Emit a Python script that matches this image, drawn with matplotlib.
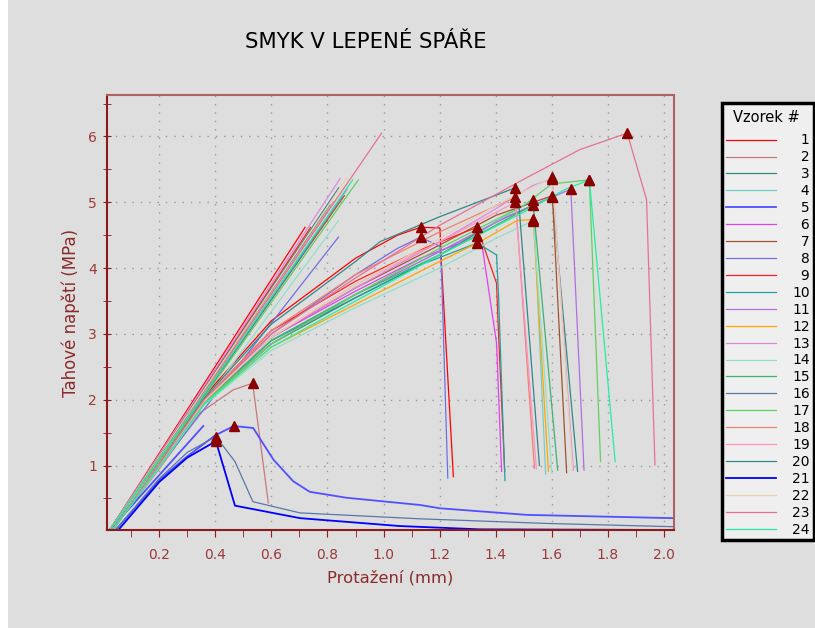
import numpy as np
import matplotlib.pyplot as plt
from matplotlib.ticker import MultipleLocator, FormatStrFormatter

# Smyk v lepene spare - 24 vzorku
# kazdy vzorek: krivka (x, y) az po vrchol, pak pokles; vrchol = trojuhelnik
# a primka z pocatku az do napeti vrcholu

colors = ['#ff0000', '#c87878', '#2e8b80', '#70d0c8', '#5050ff', '#e040f0',
          '#a0522d', '#7070e0', '#ff2020', '#20a0a0', '#b070e0', '#ffa500',
          '#dd88dd', '#90e0c8', '#3cb371', '#5878a8', '#60d060', '#f08070',
          '#ff90c0', '#308888', '#0000ff', '#e8d0b0', '#e87090', '#20f0a0']

curve_x = {
    1: [0.03, 0.2, 0.36, 0.6, 0.9, 1.05, 1.132, 1.201, 1.207, 1.249],
    2: [0.03, 0.2, 0.345, 0.464, 0.533, 0.589],
    3: [0.03, 0.2, 0.36, 0.6, 0.9, 1.2, 1.4, 1.602, 1.692],
    4: [0.03, 0.2, 0.36, 0.6, 0.9, 1.2, 1.4, 1.534, 1.578],
    5: [0.04, 0.2, 0.3, 0.4, 0.466, 0.535, 0.607, 0.678, 0.737, 0.868, 1.13, 1.201, 1.51, 2.033],
    6: [0.03, 0.2, 0.36, 0.6, 0.9, 1.132, 1.334, 1.353, 1.403, 1.421],
    7: [0.03, 0.2, 0.36, 0.6, 0.9, 1.2, 1.4, 1.602, 1.653],
    8: [0.03, 0.2, 0.36, 0.6, 0.9, 1.05, 1.132, 1.201, 1.207, 1.229],
    9: [0.03, 0.2, 0.36, 0.6, 0.9, 1.132, 1.334, 1.403, 1.409, 1.432],
    10: [0.03, 0.2, 0.36, 0.6, 0.9, 1.132, 1.334, 1.403, 1.41, 1.433],
    11: [0.03, 0.2, 0.36, 0.6, 0.9, 1.2, 1.45, 1.668, 1.715],
    12: [0.03, 0.2, 0.36, 0.6, 0.9, 1.2, 1.344, 1.475, 1.534, 1.588],
    13: [0.03, 0.2, 0.36, 0.6, 0.9, 1.2, 1.4, 1.53, 1.602, 1.677],
    14: [0.03, 0.2, 0.36, 0.6, 0.9, 1.2, 1.4, 1.534, 1.60],
    15: [0.03, 0.2, 0.36, 0.6, 0.9, 1.2, 1.4, 1.534, 1.621],
    16: [0.04, 0.2, 0.3, 0.402, 0.470, 0.534, 0.702, 1.13, 1.58, 2.033],
    17: [0.03, 0.2, 0.36, 0.6, 0.9, 1.2, 1.5, 1.6, 1.734, 1.774],
    18: [0.03, 0.2, 0.36, 0.6, 0.9, 1.2, 1.47, 1.538],
    19: [0.03, 0.2, 0.36, 0.6, 0.9, 1.2, 1.47, 1.545],
    20: [0.03, 0.2, 0.36, 0.6, 0.9, 0.987, 1.2, 1.47, 1.483, 1.556],
    21: [0.05, 0.2, 0.3, 0.402, 0.470, 0.702, 1.058, 1.344, 2.033],
    22: [0.03, 0.2, 0.36, 0.6, 0.9, 1.2, 1.4, 1.602, 1.674],
    23: [0.03, 0.2, 0.36, 0.6, 0.9, 1.2, 1.5, 1.7, 1.869, 1.938, 1.968],
    24: [0.03, 0.2, 0.36, 0.6, 0.9, 1.2, 1.5, 1.65, 1.734, 1.826],
}
curve_y = {
    1: [0, 1.08, 2.05, 3.2, 4.15, 4.5, 4.62, 4.61, 4.02, 0.83],
    2: [0, 0.95, 1.80, 2.15, 2.25, 0.43],
    3: [0, 1.0, 1.95, 2.85, 3.55, 4.2, 4.7, 5.08, 0.91],
    4: [0, 1.0, 1.95, 2.9, 3.6, 4.25, 4.7, 5.04, 0.87],
    5: [0, 0.78, 1.14, 1.46, 1.60, 1.57, 1.09, 0.76, 0.60, 0.51, 0.40, 0.35, 0.25, 0.20],
    6: [0, 1.02, 1.98, 2.95, 3.65, 4.15, 4.48, 4.3, 2.86, 0.91],
    7: [0, 1.0, 1.97, 2.95, 3.7, 4.35, 4.8, 5.10, 0.89],
    8: [0, 1.0, 1.98, 3.0, 3.9, 4.3, 4.47, 4.33, 3.9, 0.81],
    9: [0, 1.03, 2.0, 3.05, 3.8, 4.28, 4.62, 3.77, 3.11, 0.91],
    10: [0, 1.0, 1.96, 2.9, 3.55, 4.05, 4.38, 4.20, 3.6, 0.77],
    11: [0, 1.0, 1.95, 2.85, 3.6, 4.25, 4.8, 5.20, 0.93],
    12: [0, 0.98, 1.94, 2.8, 3.45, 4.1, 4.40, 4.72, 4.74, 0.91],
    13: [0, 1.02, 1.98, 2.95, 3.7, 4.4, 4.9, 5.25, 5.36, 0.93],
    14: [0, 0.97, 1.92, 2.75, 3.4, 4.0, 4.45, 4.72, 0.88],
    15: [0, 1.0, 1.95, 2.9, 3.6, 4.2, 4.65, 4.96, 0.93],
    16: [0, 0.8, 1.2, 1.44, 1.06, 0.45, 0.28, 0.19, 0.12, 0.07],
    17: [0, 1.0, 1.95, 2.85, 3.6, 4.3, 4.95, 5.28, 5.34, 1.06],
    18: [0, 1.02, 2.0, 3.05, 3.9, 4.55, 5.08, 0.96],
    19: [0, 1.0, 1.97, 2.95, 3.75, 4.4, 5.0, 0.95],
    20: [0, 1.03, 2.02, 3.15, 4.1, 4.4, 4.78, 5.22, 4.95, 1.0],
    21: [0, 0.75, 1.12, 1.37, 0.39, 0.20, 0.08, 0.03, 0.02],
    22: [0, 1.02, 1.98, 2.95, 3.75, 4.45, 4.95, 5.38, 0.95],
    23: [0, 1.02, 2.0, 3.0, 3.85, 4.65, 5.35, 5.8, 6.05, 5.04, 1.01],
    24: [0, 0.98, 1.93, 2.8, 3.5, 4.2, 4.85, 5.2, 5.34, 1.06],
}
# vrcholy (maximum napeti)
peak_x = [1.132, 0.533, 1.602, 1.534, 0.466, 1.334, 1.602, 1.132, 1.334, 1.334, 1.668, 1.534,
          1.602, 1.534, 1.534, 0.402, 1.734, 1.470, 1.470, 1.470, 0.402, 1.602, 1.869, 1.734]
peak_y = [4.62, 2.25, 5.08, 5.04, 1.60, 4.48, 5.10, 4.47, 4.62, 4.38, 5.20, 4.74,
          5.36, 4.72, 4.96, 1.44, 5.34, 5.08, 5.00, 5.22, 1.37, 5.38, 6.05, 5.34]
# konec primky z pocatku (None = bez primky)
line_end_x = [0.72, None, 0.85, 0.83, 0.357, 0.73, 0.86, 0.839, 0.74, 0.74, 0.87, 0.78,
              0.845, 0.839, 0.81, None, 0.91, 0.82, 0.82, 0.84, None, 0.87, 0.993, 0.89]
thick = [5, 21]

fig = plt.figure(figsize=(8.15, 6.28), dpi=100, facecolor='#dedede')
fig.patches.append(plt.Rectangle((0, 0), 8 / 815, 1, transform=fig.transFigure,
                                 facecolor='white', edgecolor='none'))
ax = fig.add_axes([106.7 / 815, 1 - 530 / 628, 567.6 / 815, 435 / 628])
ax.set_facecolor('#dedede')

handles = []
for i in range(24):
    n = i + 1
    lw = 1.3 if n in thick else 0.9
    h, = ax.plot(curve_x[n], curve_y[n], color=colors[i], lw=lw)
    handles.append(h)
    if line_end_x[i] is not None:
        ax.plot([0.02, line_end_x[i]], [0, peak_y[i]], color=colors[i], lw=lw)
ax.plot(peak_x, peak_y, linestyle='none', marker='^', color='#8b0000', markersize=7.5, zorder=5)

ax.set_xlim(0.0125, 2.037)
ax.set_ylim(0.02, 6.63)
ax.xaxis.set_major_locator(MultipleLocator(0.2))
ax.xaxis.set_minor_locator(MultipleLocator(0.1))
ax.yaxis.set_major_locator(MultipleLocator(1))
ax.yaxis.set_minor_locator(MultipleLocator(0.5))
ax.xaxis.set_major_formatter(FormatStrFormatter('%.1f'))
ax.grid(True, which='major', color='#999999', linestyle=(0, (1, 5)), linewidth=1)

dark = '#8b1a1a'
for s in ['left', 'bottom']:
    ax.spines[s].set_color(dark)
    ax.spines[s].set_linewidth(1.5)
for s in ['top', 'right']:
    ax.spines[s].set_color('#b06060')
    ax.spines[s].set_linewidth(1.5)
ax.tick_params(axis='x', which='both', direction='out', length=5, color=dark,
               labelcolor='#9a3a3a', labelsize=10, pad=8)
ax.tick_params(axis='y', which='both', direction='inout', length=6, color=dark,
               labelcolor='#9a3a3a', labelsize=10, pad=4)

ax.set_xlabel('Protažení (mm)', color='#8b2a2a', fontsize=11.8, labelpad=6)
ax.set_ylabel('Tahové napětí (MPa)', color='#8b2a2a', fontsize=12, labelpad=6)
fig.text(366 / 815, 1 - 42 / 628, 'SMYK V LEPENÉ SPÁŘE', ha='center', va='center', fontsize=15.2)

# ramecek legendy
fig.patches.append(plt.Rectangle((722 / 815, 1 - 540 / 628), 92 / 815, 437 / 628,
                                 transform=fig.transFigure, facecolor='#efefef',
                                 edgecolor='black', linewidth=2.5))
fig.text(766 / 815, 1 - 117 / 628, 'Vzorek #', ha='center', va='center', fontsize=10.5)
labels = ['\u2007' * (2 - len(str(n))) + str(n) for n in range(1, 25)]
leg = fig.legend(handles, labels, loc='upper left', frameon=False,
                 bbox_to_anchor=(726 / 815, 1 - 133.5 / 628), fontsize=10,
                 handlelength=3.6, handletextpad=1.15, labelspacing=0.21,
                 borderaxespad=0, borderpad=0)

fig.savefig('out.png', dpi=100, facecolor=fig.get_facecolor())
